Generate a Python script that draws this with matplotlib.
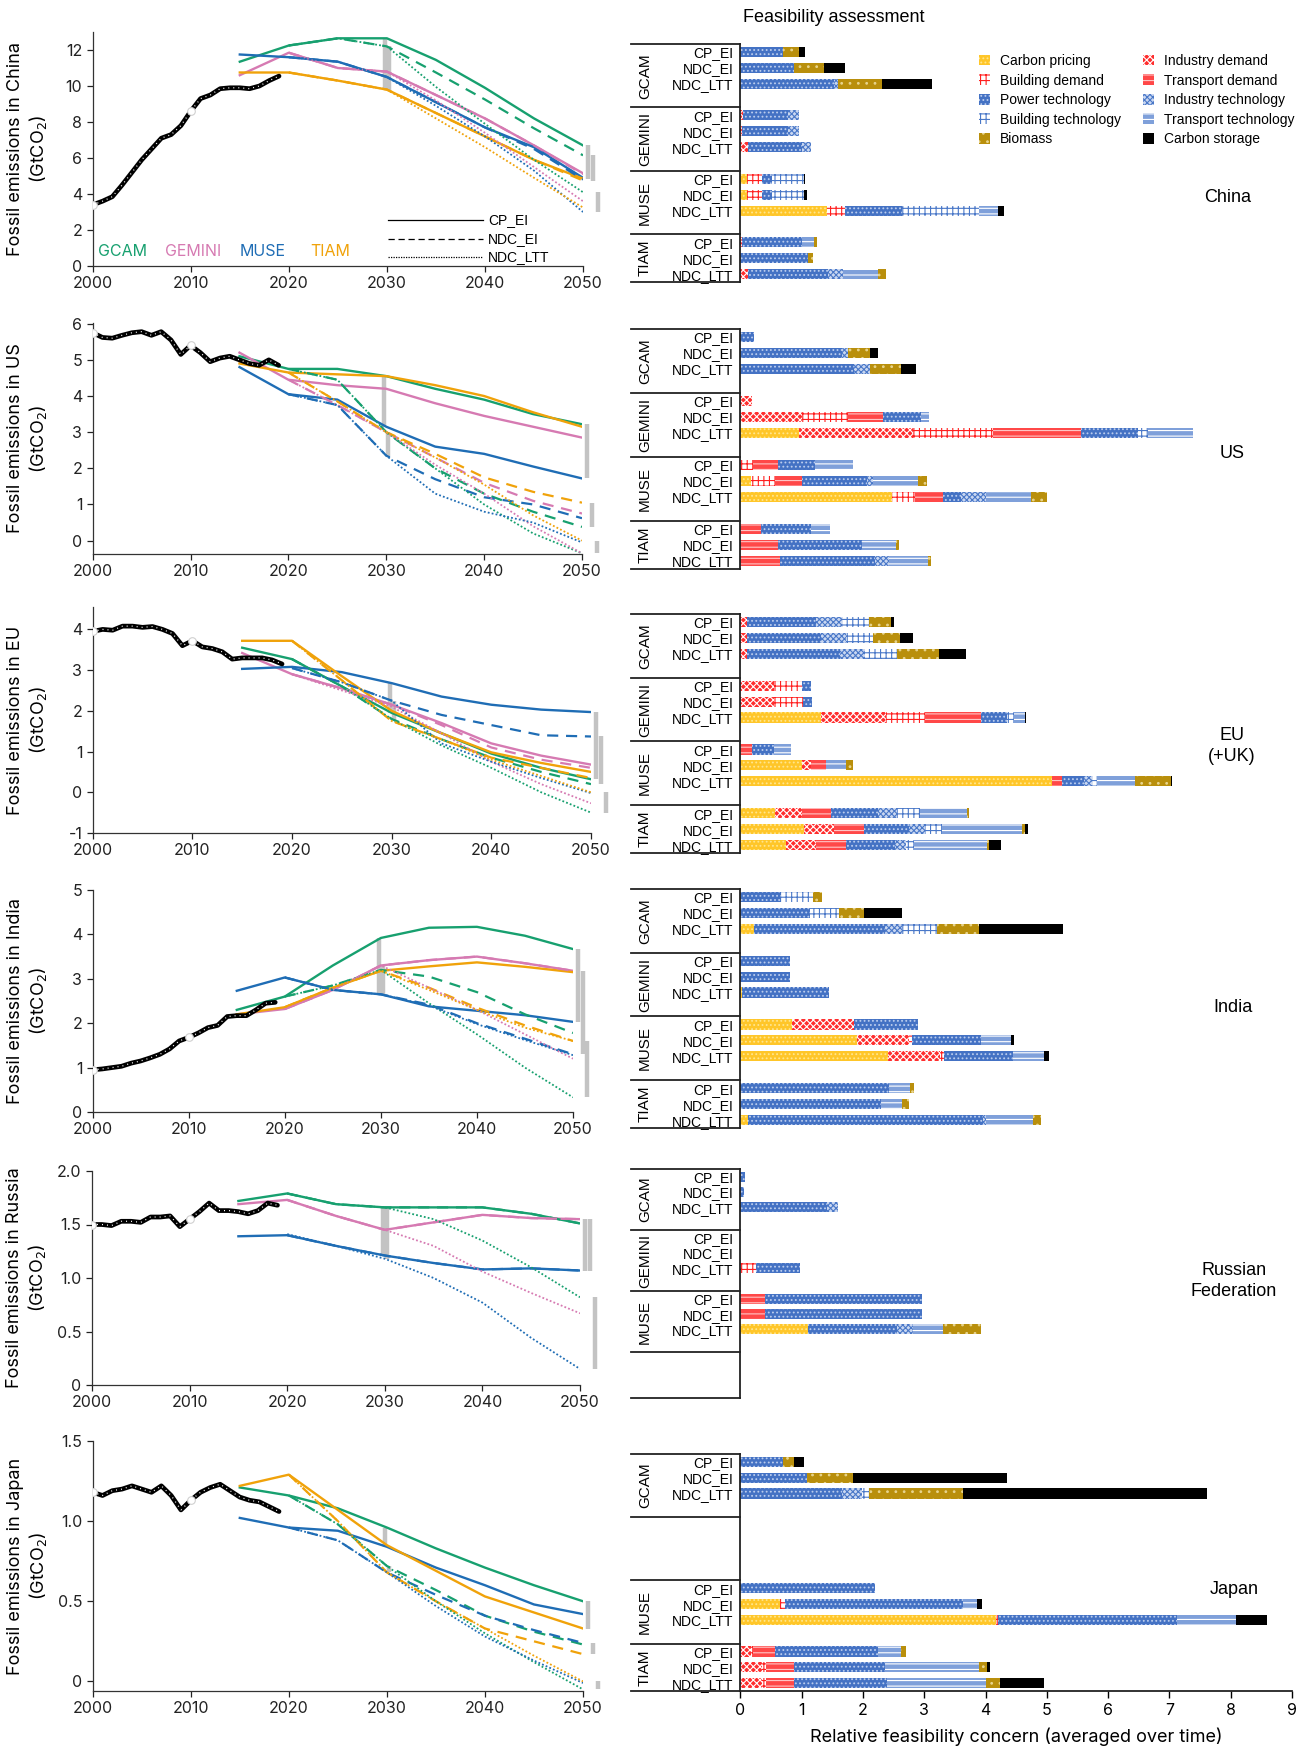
import matplotlib
matplotlib.use('Agg')
import matplotlib.pyplot as plt
import matplotlib.transforms as mtransforms
from matplotlib.patches import Patch

W, H = 1314, 1750

HIST_YEARS = list(range(2000, 2020))
CP_YEARS = [2015, 2020, 2025, 2030, 2035, 2040, 2045, 2050]
NDC_YEARS = [2020, 2025, 2030, 2035, 2040, 2045, 2050]
SCENARIOS = ["CP_EI", "NDC_EI", "NDC_LTT"]
MODEL_COLORS = {"GCAM": "#17a06f", "GEMINI": "#d67ab2", "MUSE": "#1f6db5", "TIAM": "#f0a20a"}

CATEGORIES = ["CP", "BD", "PT", "BT", "BIO", "ID", "TD", "IT", "TT", "CS"]
CATEGORY_NAMES = {
    "CP": "Carbon pricing", "BD": "Building demand", "PT": "Power technology",
    "BT": "Building technology", "BIO": "Biomass", "ID": "Industry demand",
    "TD": "Transport demand", "IT": "Industry technology", "TT": "Transport technology",
    "CS": "Carbon storage",
}

# ---------------- emission pathways (GtCO2) ----------------
CHINA_HIST = [3.4, 3.6, 3.85, 4.5, 5.2, 5.9, 6.5, 7.1, 7.3, 7.8, 8.6, 9.3, 9.5, 9.85, 9.9, 9.9, 9.85, 10.0, 10.3, 10.55]
CHINA_CP = {
    "GCAM": [11.35, 12.25, 12.65, 12.65, 11.45, 9.9, 8.2, 6.7],
    "GEMINI": [10.6, 11.85, 11.0, 10.8, 9.5, 8.2, 6.7, 5.15],
    "MUSE": [11.75, 11.6, 11.35, 10.5, 9.1, 7.7, 6.6, 4.9],
    "TIAM": [10.75, 10.75, 10.3, 9.8, 8.5, 7.2, 5.9, 4.85],
}
CHINA_NDC_EI = {
    "GCAM": [12.25, 12.65, 12.2, 10.75, 9.25, 7.65, 6.15],
    "GEMINI": [11.85, 11.0, 10.8, 9.5, 8.2, 6.7, 5.1],
    "MUSE": [11.6, 11.35, 10.5, 9.1, 7.7, 6.5, 4.8],
    "TIAM": [10.75, 10.3, 9.8, 8.5, 7.2, 5.9, 4.75],
}
CHINA_NDC_LTT = {
    "GCAM": [12.25, 12.65, 12.2, 9.95, 7.9, 5.9, 4.1],
    "GEMINI": [11.85, 11.0, 10.8, 9.2, 7.4, 5.5, 3.6],
    "MUSE": [11.6, 11.35, 10.5, 8.9, 7.2, 5.3, 3.0],
    "TIAM": [10.75, 10.3, 9.8, 8.2, 6.6, 4.9, 3.25],
}

US_HIST = [5.75, 5.62, 5.6, 5.68, 5.75, 5.78, 5.68, 5.78, 5.55, 5.15, 5.4, 5.2, 4.95, 5.05, 5.1, 5.0, 4.9, 4.85, 5.0, 4.85]
US_CP = {
    "GCAM": [5.1, 4.75, 4.75, 4.55, 4.2, 3.9, 3.5, 3.22],
    "GEMINI": [5.2, 4.45, 4.3, 4.2, 3.8, 3.45, 3.15, 2.85],
    "MUSE": [4.8, 4.05, 3.9, 3.15, 2.6, 2.4, 2.05, 1.72],
    "TIAM": [4.9, 4.65, 4.6, 4.55, 4.3, 4.0, 3.55, 3.15],
}
US_NDC_EI = {
    "GCAM": [4.75, 4.45, 3.0, 2.0, 1.3, 0.8, 0.38],
    "GEMINI": [4.45, 3.75, 3.0, 2.3, 1.6, 1.1, 0.75],
    "MUSE": [4.05, 3.75, 2.35, 1.7, 1.2, 1.0, 0.62],
    "TIAM": [4.65, 3.85, 3.0, 2.4, 1.75, 1.35, 1.05],
}
US_NDC_LTT = {
    "GCAM": [4.75, 4.45, 3.0, 2.0, 1.0, 0.2, -0.35],
    "GEMINI": [4.45, 3.75, 3.0, 2.1, 1.3, 0.4, -0.35],
    "MUSE": [4.05, 3.75, 2.35, 1.3, 0.8, 0.5, -0.05],
    "TIAM": [4.65, 3.85, 3.0, 2.3, 1.55, 0.7, 0.0],
}

EU_HIST = [3.95, 4.0, 3.98, 4.08, 4.08, 4.05, 4.07, 4.0, 3.9, 3.6, 3.72, 3.57, 3.53, 3.45, 3.27, 3.3, 3.3, 3.3, 3.25, 3.15]
EU_CP = {
    "GCAM": [3.55, 3.27, 2.6, 1.95, 1.45, 0.95, 0.6, 0.32],
    "GEMINI": [3.42, 2.9, 2.55, 2.15, 1.7, 1.2, 0.9, 0.68],
    "MUSE": [3.03, 3.08, 2.95, 2.68, 2.35, 2.15, 2.03, 1.97],
    "TIAM": [3.72, 3.72, 2.85, 2.0, 1.45, 0.98, 0.72, 0.5],
}
EU_NDC_EI = {
    "GCAM": [3.27, 2.6, 1.8, 1.3, 0.85, 0.5, 0.2],
    "GEMINI": [2.9, 2.55, 2.15, 1.65, 1.1, 0.8, 0.6],
    "MUSE": [3.05, 2.7, 2.25, 1.9, 1.65, 1.4, 1.37],
    "TIAM": [3.72, 2.75, 1.75, 1.3, 0.85, 0.6, 0.35],
}
EU_NDC_LTT = {
    "GCAM": [3.27, 2.6, 1.8, 1.15, 0.6, 0.0, -0.5],
    "GEMINI": [2.9, 2.5, 2.1, 1.45, 0.75, 0.2, -0.27],
    "MUSE": [3.05, 2.7, 2.25, 1.2, 0.75, 0.35, -0.02],
    "TIAM": [3.72, 2.75, 1.75, 1.3, 0.8, 0.4, 0.0],
}

INDIA_HIST = [0.95, 0.97, 1.0, 1.03, 1.1, 1.15, 1.22, 1.3, 1.42, 1.6, 1.68, 1.78, 1.9, 1.95, 2.15, 2.17, 2.17, 2.3, 2.45, 2.47]
INDIA_CP = {
    "GCAM": [2.3, 2.6, 3.3, 3.92, 4.15, 4.17, 3.97, 3.67],
    "GEMINI": [2.2, 2.32, 2.75, 3.3, 3.42, 3.5, 3.35, 3.18],
    "MUSE": [2.73, 3.03, 2.75, 2.65, 2.38, 2.28, 2.18, 2.03],
    "TIAM": [2.2, 2.36, 2.8, 3.18, 3.28, 3.37, 3.27, 3.15],
}
INDIA_NDC_EI = {
    "GCAM": [2.6, 2.85, 3.2, 3.05, 2.7, 2.2, 1.78],
    "GEMINI": [2.32, 2.75, 3.3, 3.42, 3.5, 3.35, 3.18],
    "MUSE": [3.03, 2.75, 2.65, 2.42, 2.0, 1.65, 1.3],
    "TIAM": [2.36, 2.8, 3.18, 2.8, 2.35, 1.95, 1.6],
}
INDIA_NDC_LTT = {
    "GCAM": [2.6, 2.85, 3.2, 2.45, 1.75, 1.0, 0.33],
    "GEMINI": [2.32, 2.75, 3.3, 2.8, 2.3, 1.75, 1.2],
    "MUSE": [3.03, 2.75, 2.65, 2.4, 1.98, 1.62, 1.28],
    "TIAM": [2.36, 2.8, 3.18, 2.75, 2.3, 1.9, 1.6],
}

RUSSIA_HIST = [1.5, 1.5, 1.49, 1.53, 1.53, 1.52, 1.57, 1.57, 1.58, 1.48, 1.55, 1.62, 1.7, 1.63, 1.63, 1.62, 1.6, 1.63, 1.7, 1.68]
RUSSIA_CP = {
    "GCAM": [1.72, 1.79, 1.69, 1.66, 1.66, 1.66, 1.6, 1.51],
    "GEMINI": [1.69, 1.73, 1.58, 1.45, 1.52, 1.59, 1.56, 1.55],
    "MUSE": [1.39, 1.4, 1.3, 1.21, 1.14, 1.08, 1.09, 1.07],
}
RUSSIA_NDC_EI = {
    "GCAM": [1.79, 1.69, 1.66, 1.66, 1.66, 1.6, 1.51],
    "GEMINI": [1.73, 1.58, 1.45, 1.52, 1.59, 1.56, 1.55],
    "MUSE": [1.4, 1.3, 1.21, 1.14, 1.08, 1.09, 1.07],
}
RUSSIA_NDC_LTT = {
    "GCAM": [1.79, 1.69, 1.66, 1.55, 1.35, 1.1, 0.82],
    "GEMINI": [1.73, 1.58, 1.45, 1.3, 1.06, 0.86, 0.67],
    "MUSE": [1.41, 1.3, 1.18, 1.0, 0.77, 0.44, 0.15],
}

JAPAN_HIST = [1.18, 1.16, 1.19, 1.2, 1.22, 1.2, 1.18, 1.22, 1.16, 1.07, 1.13, 1.18, 1.21, 1.23, 1.19, 1.15, 1.13, 1.12, 1.09, 1.06]
JAPAN_CP = {
    "GCAM": [1.21, 1.16, 1.08, 0.96, 0.83, 0.71, 0.6, 0.5],
    "MUSE": [1.02, 0.96, 0.94, 0.84, 0.71, 0.6, 0.48, 0.42],
    "TIAM": [1.22, 1.29, 1.07, 0.85, 0.69, 0.53, 0.43, 0.33],
}
JAPAN_NDC_EI = {
    "GCAM": [1.16, 0.98, 0.72, 0.57, 0.41, 0.31, 0.23],
    "MUSE": [0.96, 0.88, 0.68, 0.54, 0.41, 0.32, 0.24],
    "TIAM": [1.29, 1.0, 0.68, 0.5, 0.33, 0.25, 0.17],
}
JAPAN_NDC_LTT = {
    "GCAM": [1.16, 0.98, 0.72, 0.5, 0.3, 0.12, -0.05],
    "MUSE": [0.96, 0.88, 0.68, 0.47, 0.28, 0.13, -0.01],
    "TIAM": [1.29, 1.0, 0.68, 0.5, 0.33, 0.16, 0.0],
}

# ---------------- feasibility concerns (segment sizes, in category order) ----------------
CHINA_BARS = {
    ("GCAM", "CP_EI"): [("PT", 0.69), ("BIO", 0.27), ("CS", 0.09)],
    ("GCAM", "NDC_EI"): [("PT", 0.87), ("BIO", 0.49), ("CS", 0.35)],
    ("GCAM", "NDC_LTT"): [("PT", 1.52), ("IT", 0.08), ("BIO", 0.71), ("CS", 0.82)],
    ("GEMINI", "CP_EI"): [("ID", 0.04), ("PT", 0.74), ("IT", 0.17)],
    ("GEMINI", "NDC_EI"): [("ID", 0.03), ("PT", 0.75), ("IT", 0.17)],
    ("GEMINI", "NDC_LTT"): [("ID", 0.13), ("PT", 0.87), ("IT", 0.16)],
    ("MUSE", "CP_EI"): [("CP", 0.11), ("BD", 0.25), ("PT", 0.15), ("BT", 0.52), ("CS", 0.02)],
    ("MUSE", "NDC_EI"): [("CP", 0.11), ("BD", 0.25), ("PT", 0.15), ("BT", 0.52), ("CS", 0.06)],
    ("MUSE", "NDC_LTT"): [("CP", 1.42), ("BD", 0.28), ("PT", 0.94), ("BT", 1.25), ("TT", 0.31), ("CS", 0.10)],
    ("TIAM", "CP_EI"): [("ID", 0.03), ("PT", 0.97), ("TT", 0.20), ("BIO", 0.05)],
    ("TIAM", "NDC_EI"): [("PT", 1.10), ("BIO", 0.09)],
    ("TIAM", "NDC_LTT"): [("ID", 0.12), ("PT", 1.31), ("IT", 0.24), ("TT", 0.58), ("BIO", 0.12)],
}
US_BARS = {
    ("GCAM", "CP_EI"): [("PT", 0.22)],
    ("GCAM", "NDC_EI"): [("PT", 1.65), ("IT", 0.10), ("BIO", 0.37), ("CS", 0.13)],
    ("GCAM", "NDC_LTT"): [("PT", 1.86), ("IT", 0.25), ("BIO", 0.51), ("CS", 0.25)],
    ("GEMINI", "CP_EI"): [("ID", 0.19)],
    ("GEMINI", "NDC_EI"): [("ID", 1.00), ("BD", 0.75), ("TD", 0.58), ("PT", 0.62), ("TT", 0.12)],
    ("GEMINI", "NDC_LTT"): [("CP", 0.95), ("ID", 1.87), ("BD", 1.30), ("TD", 1.43), ("PT", 0.94), ("BT", 0.16), ("TT", 0.74)],
    ("MUSE", "CP_EI"): [("BD", 0.20), ("TD", 0.41), ("PT", 0.60), ("TT", 0.62)],
    ("MUSE", "NDC_EI"): [("CP", 0.18), ("BD", 0.38), ("TD", 0.44), ("PT", 1.06), ("IT", 0.11), ("TT", 0.73), ("BIO", 0.14)],
    ("MUSE", "NDC_LTT"): [("CP", 2.48), ("BD", 0.37), ("TD", 0.45), ("PT", 0.30), ("IT", 0.41), ("TT", 0.73), ("BIO", 0.27)],
    ("TIAM", "CP_EI"): [("TD", 0.33), ("PT", 0.83), ("TT", 0.30)],
    ("TIAM", "NDC_EI"): [("TD", 0.61), ("PT", 1.38), ("TT", 0.55), ("BIO", 0.04)],
    ("TIAM", "NDC_LTT"): [("TD", 0.65), ("PT", 1.55), ("IT", 0.23), ("TT", 0.63), ("BIO", 0.05)],
}
EU_BARS = {
    ("GCAM", "CP_EI"): [("ID", 0.11), ("PT", 1.12), ("IT", 0.43), ("BT", 0.44), ("BIO", 0.36), ("CS", 0.05)],
    ("GCAM", "NDC_EI"): [("ID", 0.11), ("PT", 1.20), ("IT", 0.41), ("BT", 0.44), ("BIO", 0.44), ("CS", 0.22)],
    ("GCAM", "NDC_LTT"): [("ID", 0.11), ("PT", 1.52), ("IT", 0.40), ("BT", 0.53), ("BIO", 0.68), ("CS", 0.44)],
    ("GEMINI", "CP_EI"): [("ID", 0.55), ("BD", 0.45), ("PT", 0.16)],
    ("GEMINI", "NDC_EI"): [("ID", 0.55), ("BD", 0.47), ("PT", 0.15)],
    ("GEMINI", "NDC_LTT"): [("CP", 1.32), ("ID", 1.05), ("BD", 0.64), ("TD", 0.91), ("PT", 0.43), ("BT", 0.12), ("TT", 0.18), ("CS", 0.01)],
    ("MUSE", "CP_EI"): [("TD", 0.19), ("PT", 0.36), ("TT", 0.27)],
    ("MUSE", "NDC_EI"): [("CP", 1.00), ("ID", 0.16), ("TD", 0.23), ("TT", 0.34), ("BIO", 0.10)],
    ("MUSE", "NDC_LTT"): [("CP", 5.09), ("TD", 0.16), ("PT", 0.36), ("IT", 0.13), ("BT", 0.08), ("TT", 0.62), ("BIO", 0.58), ("CS", 0.03)],
    ("TIAM", "CP_EI"): [("CP", 0.56), ("ID", 0.45), ("TD", 0.47), ("PT", 0.77), ("IT", 0.31), ("BT", 0.37), ("TT", 0.77), ("BIO", 0.03)],
    ("TIAM", "NDC_EI"): [("CP", 1.03), ("ID", 0.49), ("TD", 0.50), ("PT", 0.73), ("IT", 0.27), ("BT", 0.27), ("TT", 1.31), ("BIO", 0.04), ("CS", 0.05)],
    ("TIAM", "NDC_LTT"): [("CP", 0.74), ("ID", 0.50), ("TD", 0.49), ("PT", 0.80), ("IT", 0.17), ("BT", 0.14), ("TT", 1.18), ("BIO", 0.03), ("CS", 0.21)],
}
INDIA_BARS = {
    ("GCAM", "CP_EI"): [("PT", 0.67), ("BT", 0.51), ("BIO", 0.15)],
    ("GCAM", "NDC_EI"): [("PT", 1.14), ("BT", 0.47), ("BIO", 0.41), ("CS", 0.62)],
    ("GCAM", "NDC_LTT"): [("CP", 0.22), ("PT", 2.14), ("IT", 0.28), ("BT", 0.56), ("BIO", 0.69), ("CS", 1.38)],
    ("GEMINI", "CP_EI"): [("PT", 0.81)],
    ("GEMINI", "NDC_EI"): [("PT", 0.81)],
    ("GEMINI", "NDC_LTT"): [("CP", 0.02), ("PT", 1.42)],
    ("MUSE", "CP_EI"): [("CP", 0.85), ("ID", 1.00), ("PT", 1.04)],
    ("MUSE", "NDC_EI"): [("CP", 1.90), ("ID", 0.85), ("BD", 0.05), ("PT", 1.13), ("TT", 0.48), ("CS", 0.05)],
    ("MUSE", "NDC_LTT"): [("CP", 2.41), ("ID", 0.85), ("BD", 0.06), ("PT", 1.13), ("TT", 0.51), ("CS", 0.07)],
    ("TIAM", "CP_EI"): [("PT", 2.42), ("TT", 0.34), ("BIO", 0.07)],
    ("TIAM", "NDC_EI"): [("PT", 2.30), ("TT", 0.33), ("BIO", 0.12)],
    ("TIAM", "NDC_LTT"): [("CP", 0.12), ("PT", 3.84), ("IT", 0.04), ("TT", 0.77), ("BIO", 0.14)],
}
RUSSIA_BARS = {
    ("GCAM", "CP_EI"): [("PT", 0.07)],
    ("GCAM", "NDC_EI"): [("PT", 0.06)],
    ("GCAM", "NDC_LTT"): [("PT", 1.42), ("IT", 0.17)],
    ("GEMINI", "NDC_LTT"): [("BD", 0.26), ("PT", 0.72)],
    ("MUSE", "CP_EI"): [("TD", 0.40), ("PT", 2.56)],
    ("MUSE", "NDC_EI"): [("TD", 0.40), ("PT", 2.56)],
    ("MUSE", "NDC_LTT"): [("CP", 1.11), ("PT", 1.44), ("IT", 0.27), ("TT", 0.49), ("BIO", 0.62)],
}
JAPAN_BARS = {
    ("GCAM", "CP_EI"): [("PT", 0.69), ("BIO", 0.18), ("CS", 0.16)],
    ("GCAM", "NDC_EI"): [("PT", 1.09), ("BIO", 0.75), ("CS", 2.51)],
    ("GCAM", "NDC_LTT"): [("PT", 1.65), ("IT", 0.34), ("BT", 0.11), ("BIO", 1.53), ("CS", 3.99)],
    ("MUSE", "CP_EI"): [("PT", 2.20)],
    ("MUSE", "NDC_EI"): [("CP", 0.64), ("BD", 0.09), ("PT", 2.90), ("TT", 0.23), ("CS", 0.09)],
    ("MUSE", "NDC_LTT"): [("CP", 4.17), ("BD", 0.04), ("PT", 2.91), ("TT", 0.96), ("CS", 0.52)],
    ("TIAM", "CP_EI"): [("ID", 0.17), ("BD", 0.03), ("TD", 0.36), ("PT", 1.69), ("TT", 0.37), ("BIO", 0.08)],
    ("TIAM", "NDC_EI"): [("ID", 0.35), ("BD", 0.07), ("TD", 0.45), ("PT", 1.49), ("TT", 1.53), ("BIO", 0.14), ("CS", 0.05)],
    ("TIAM", "NDC_LTT"): [("ID", 0.35), ("BD", 0.07), ("TD", 0.45), ("PT", 1.52), ("TT", 1.61), ("BIO", 0.23), ("CS", 0.73)],
}

# hatch styles for the concern categories
STYLE = {
    "CP": dict(facecolor="#FFC629", edgecolor="#FFE68F", hatch="...."),
    "ID": dict(facecolor="#FF2E2E", edgecolor="#FFFFFF", hatch="xxxxx"),
    "BD": dict(facecolor="#FFFFFF", edgecolor="#FF2020", hatch="+++"),
    "TD": dict(facecolor="#FF4848", edgecolor="#FFC4C4", hatch="---"),
    "PT": dict(facecolor="#4472C4", edgecolor="#BBCDEE", hatch="...."),
    "IT": dict(facecolor="#C9D7F1", edgecolor="#4A78C8", hatch="xxxxxx"),
    "BT": dict(facecolor="#FFFFFF", edgecolor="#4A78C8", hatch="+++"),
    "TT": dict(facecolor="#7FA0DA", edgecolor="#FFFFFF", hatch="---"),
    "BIO": dict(facecolor="#B98F0C", edgecolor="#E8D48C", hatch=".."),
    "CS": dict(facecolor="#000000", edgecolor="#000000", hatch=None),
}

NARROW = ["Liberation Sans Narrow", "Liberation Sans", "DejaVu Sans"]
plt.rcParams['font.family'] = ["Inter", "DejaVu Sans"]
plt.rcParams['hatch.linewidth'] = 0.8

# region, line data, y axis, groups, bars, layout (pixel boxes)
REGIONS = [
    dict(name="China", hist=CHINA_HIST, cp=CHINA_CP, ei=CHINA_NDC_EI, ltt=CHINA_NDC_LTT,
         ylim=(0, 13), yticks=[0, 2, 4, 6, 8, 10, 12], fmt="{:g}",
         groups=["GCAM", "GEMINI", "MUSE", "TIAM"], bars=CHINA_BARS, label="China",
         line_box=(92.7, 32, 583, 266), bar_box=(44, 282), label_xy=(1228, 197)),
    dict(name="US", hist=US_HIST, cp=US_CP, ei=US_NDC_EI, ltt=US_NDC_LTT,
         ylim=(-0.37, 6.02), yticks=[0, 1, 2, 3, 4, 5, 6], fmt="{:g}",
         groups=["GCAM", "GEMINI", "MUSE", "TIAM"], bars=US_BARS, label="US",
         line_box=(92.7, 323, 582, 554), bar_box=(329, 569), label_xy=(1232, 454)),
    dict(name="EU", hist=EU_HIST, cp=EU_CP, ei=EU_NDC_EI, ltt=EU_NDC_LTT,
         ylim=(-1, 4.55), yticks=[-1, 0, 1, 2, 3, 4], fmt="{:g}",
         groups=["GCAM", "GEMINI", "MUSE", "TIAM"], bars=EU_BARS, label="EU\n(+UK)",
         line_box=(92.7, 607, 591, 833), bar_box=(614, 853), label_xy=(1232, 746)),
    dict(name="India", hist=INDIA_HIST, cp=INDIA_CP, ei=INDIA_NDC_EI, ltt=INDIA_NDC_LTT,
         ylim=(0, 5), yticks=[0, 1, 2, 3, 4, 5], fmt="{:g}",
         groups=["GCAM", "GEMINI", "MUSE", "TIAM"], bars=INDIA_BARS, label="India",
         line_box=(92.7, 890, 573, 1112), bar_box=(889, 1128), label_xy=(1233, 1007)),
    dict(name="Russia", hist=RUSSIA_HIST, cp=RUSSIA_CP, ei=RUSSIA_NDC_EI, ltt=RUSSIA_NDC_LTT,
         ylim=(0, 2.0), yticks=[0, 0.5, 1.0, 1.5, 2.0], fmt="{:.1f}",
         groups=["GCAM", "GEMINI", "MUSE", None], bars=RUSSIA_BARS, label="Russian\nFederation",
         line_box=(92, 1171, 580, 1385), bar_box=(1169, 1398), label_xy=(1234, 1281)),
    dict(name="Japan", hist=JAPAN_HIST, cp=JAPAN_CP, ei=JAPAN_NDC_EI, ltt=JAPAN_NDC_LTT,
         ylim=(-0.06, 1.5), yticks=[0, 0.5, 1.0, 1.5], fmt="{:.1f}",
         groups=["GCAM", None, "MUSE", "TIAM"], bars=JAPAN_BARS, label="Japan",
         line_box=(92.7, 1441, 583, 1691), bar_box=(1454, 1691), label_xy=(1234, 1590)),
]

BAR_LEFT, BAR_RIGHT = 740.4, 1292
SEP_LEFT = 631


def rect(left, top, right, bottom):
    return [left / W, 1 - bottom / H, (right - left) / W, (bottom - top) / H]


def draw_lines(ax, reg, first):
    grey = "#c3c3c3"
    # historical emissions
    ax.plot(HIST_YEARS, reg["hist"], color="black", lw=3.4, solid_capstyle="round", zorder=5)
    ax.plot(HIST_YEARS, reg["hist"], color="white", lw=0.9, linestyle=(0, (0.8, 3.2)), zorder=6)
    ax.plot([2000, 2010], [reg["hist"][0], reg["hist"][10]], linestyle="none", marker="o",
            ms=5.5, mfc="white", mec="#d0d0d0", mew=0.8, zorder=7)

    for model, vals in reg["cp"].items():
        ax.plot(CP_YEARS, vals, color=MODEL_COLORS[model], lw=1.7, zorder=3)
    for model, vals in reg["ei"].items():
        ax.plot(NDC_YEARS, vals, color=MODEL_COLORS[model], lw=1.6, linestyle=(0, (5, 3.5)), zorder=3)
    for model, vals in reg["ltt"].items():
        ax.plot(NDC_YEARS, vals, color=MODEL_COLORS[model], lw=1.3, linestyle=(0, (1, 1.2)), zorder=3)

    # ranges across models
    cp30 = [v[3] for v in reg["cp"].values()]
    ndc30 = [v[2] for v in reg["ei"].values()] + [v[2] for v in reg["ltt"].values()]
    cp50 = [v[-1] for v in reg["cp"].values()]
    ei50 = [v[-1] for v in reg["ei"].values()]
    ltt50 = [v[-1] for v in reg["ltt"].values()]
    for x, vals in [(2029.8, cp30), (2030.2, ndc30), (2050.5, cp50), (2051.0, ei50), (2051.5, ltt50)]:
        ax.plot([x, x], [min(vals), max(vals)], color=grey, lw=3.2, solid_capstyle="butt",
                clip_on=False, zorder=2)

    ax.set_xlim(2000, 2050)
    ax.set_ylim(*reg["ylim"])
    ax.set_xticks([2000, 2010, 2020, 2030, 2040, 2050])
    ax.set_yticks(reg["yticks"])
    ax.set_yticklabels([reg["fmt"].format(t) if t != 0 else "0" for t in reg["yticks"]])
    ax.tick_params(labelsize=11.5, length=4, width=0.9, colors="#222222")
    for side in ["top", "right"]:
        ax.spines[side].set_visible(False)
    for side in ["left", "bottom"]:
        ax.spines[side].set_linewidth(0.9)
        ax.spines[side].set_color("#333333")
    ax.set_ylabel(f"Fossil emissions in {reg['name']}\n(GtCO$_2$)", fontsize=13, linespacing=1.15)
    width_px = reg["line_box"][2] - reg["line_box"][0]
    ax.yaxis.set_label_coords(-44 / width_px, 0.5)

    if first:
        for model, x in zip(["GCAM", "GEMINI", "MUSE", "TIAM"], [2003.0, 2010.2, 2017.3, 2024.2]):
            ax.text(x, 0.8, model, color=MODEL_COLORS[model], fontsize=11.5, ha="center", va="center")
        for y, scen, ls in [(2.55, "CP_EI", "-"), (1.5, "NDC_EI", (0, (5, 3))), (0.5, "NDC_LTT", (0, (1, 1)))]:
            ax.plot([2030.1, 2039.8], [y, y], color="black", lw=0.9, linestyle=ls)
            ax.text(2040.3, y, scen, fontsize=10, va="center", family=NARROW)


def draw_bars(ax, reg, last):
    groups = reg["groups"]
    n = len(groups)
    bottom = 4 * (n - 1) + 3
    blend = mtransforms.blended_transform_factory(ax.transAxes, ax.transData)
    sep_x = (SEP_LEFT - BAR_LEFT) / (BAR_RIGHT - BAR_LEFT)
    lab_x = (645 - BAR_LEFT) / (BAR_RIGHT - BAR_LEFT)
    ticks, labels = [], []
    for g, model in enumerate(groups):
        top = 4 * g
        ax.plot([sep_x, 0], [top, top], transform=blend, color="#222222", lw=1.3, clip_on=False)
        if model is None:
            continue
        gend = top + 3 if g == n - 1 else top + 4
        ax.text(lab_x, (top + gend) / 2, model, rotation=90, ha="center", va="center",
                transform=blend, fontsize=11, family=NARROW)
        for s, scen in enumerate(SCENARIOS):
            y = top + 0.5 + s
            ticks.append(y)
            labels.append(scen)
            left = 0
            for cat, val in reg["bars"].get((model, scen), []):
                ax.barh(y, val, left=left, height=0.64, linewidth=0, **STYLE[cat])
                left += val
    ax.plot([sep_x, 0], [bottom, bottom], transform=blend, color="#222222", lw=1.3, clip_on=False)

    ax.set_ylim(bottom, 0)
    ax.set_xlim(0, 9)
    ax.set_yticks(ticks)
    ax.set_yticklabels(labels, family=NARROW, fontsize=10)
    ax.tick_params(axis="y", length=0, pad=5)
    for side in ["top", "right"]:
        ax.spines[side].set_visible(False)
    ax.spines["left"].set_linewidth(1.3)
    ax.spines["left"].set_color("#222222")
    if last:
        ax.spines["bottom"].set_linewidth(1.3)
        ax.spines["bottom"].set_color("#222222")
        ax.set_xticks(range(10))
        ax.tick_params(axis="x", labelsize=11.5, length=5, width=1.0)
        ax.set_xlabel("Relative feasibility concern (averaged over time)", fontsize=13, labelpad=7)
    else:
        ax.spines["bottom"].set_visible(False)
        ax.set_xticks([])


fig = plt.figure(figsize=(W / 100, H / 100), dpi=100)

for i, reg in enumerate(REGIONS):
    l, t, r, b = reg["line_box"]
    ax_line = fig.add_axes(rect(l, t, r, b))
    draw_lines(ax_line, reg, i == 0)

    bt, bb = reg["bar_box"]
    ax_bar = fig.add_axes(rect(BAR_LEFT, bt, BAR_RIGHT, bb))
    draw_bars(ax_bar, reg, i == len(REGIONS) - 1)

    lx, ly = reg["label_xy"]
    fig.text(lx / W, 1 - ly / H, reg["label"], ha="center", va="center", fontsize=13,
             family=NARROW, linespacing=1.3)

fig.text(834 / W, 1 - 17 / H, "Feasibility assessment", ha="center", va="center", fontsize=13,
         family=NARROW)

handles = [Patch(linewidth=0, **STYLE[c]) for c in CATEGORIES]
fig.legend(handles, [CATEGORY_NAMES[c] for c in CATEGORIES], ncol=2, loc="upper left",
           bbox_to_anchor=(972 / W, 1 - 47 / H), frameon=False,
           prop={"family": NARROW, "size": 10}, handlelength=0.8, handleheight=0.8,
           handletextpad=0.7, labelspacing=0.4, columnspacing=1.6, borderpad=0)

fig.savefig("out.png", dpi=100)
